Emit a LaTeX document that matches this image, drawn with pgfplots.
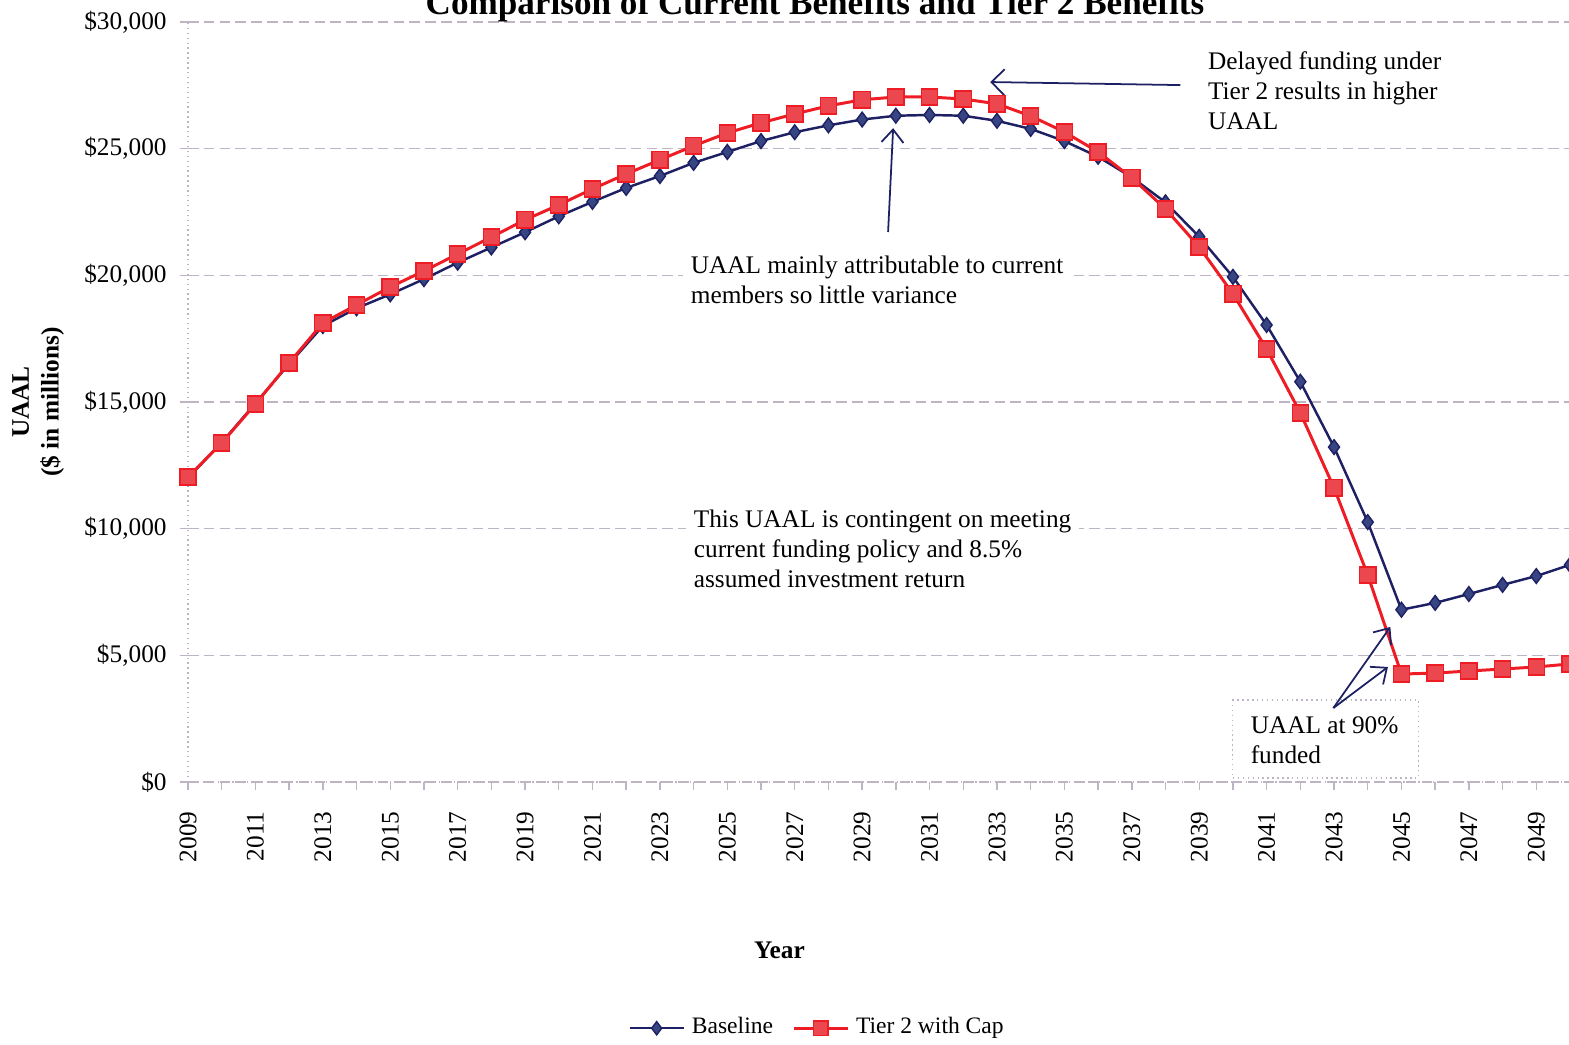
\documentclass[border=0pt]{standalone}
\usepackage{pgfplots}
\pgfplotsset{compat=1.18}
\usepackage{fontspec}
\setmainfont{Liberation Serif}
\usetikzlibrary{arrows.meta}

\definecolor{navy}{RGB}{30,32,100}
\definecolor{navyfill}{RGB}{55,70,130}
\definecolor{tierred}{RGB}{238,28,36}
\definecolor{tierfill}{RGB}{236,70,78}
\definecolor{gridc}{RGB}{190,180,195}

\newcommand{\smallfont}{\fontsize{7.2}{8.5}\selectfont}

\begin{document}
\begin{tikzpicture}
\path[use as bounding box] (0,0) rectangle (15.69cm,10.45cm);
\begin{axis}[
  at={(1.88cm,2.63cm)}, anchor=south west,
  scale only axis, width=13.82cm, height=7.60cm,
  xmin=2009, xmax=2050, ymin=0, ymax=30000,
  clip=false,
  axis x line*=bottom, axis y line*=left,
  axis line style={gridc, densely dotted, line width=0.4pt},
  xtick={2009,2011,...,2049},
  minor xtick={2010,2012,...,2050},
  ytick={0,5000,...,30000},
  yticklabels={\$0,\$5{,}000,\$10{,}000,\$15{,}000,\$20{,}000,\$25{,}000,\$30{,}000},
  ymajorgrids,
  grid style={gridc, dash pattern=on 3pt off 1.5pt, line width=0.35pt},
  major tick length=0.8mm, minor tick length=0.8mm,
  tick style={gridc, line width=0.4pt},
  tick align=outside,
  /pgf/number format/assume math mode=true,
  xticklabel style={/pgf/number format/1000 sep={}, rotate=90, anchor=east, font=\smallfont, xshift=-0.9mm},
  yticklabel style={font=\smallfont, xshift=-0.1mm},
  ylabel={UAAL\\(\$ in millions)},
  ylabel style={align=center, font=\smallfont\bfseries, rotate=0, anchor=center,
    at={(axis description cs:-0.1085,0.5)}},
  xlabel={Year},
  xlabel style={font=\smallfont\bfseries, anchor=center, at={(axis description cs:0.428,-0.221)}},
  legend style={at={(axis description cs:0.457,-0.324)}, anchor=center, draw=none,
    fill=none, font=\fontsize{6.7}{8}\selectfont, legend columns=2,
    /tikz/every even column/.append style={column sep=1.2mm}},
  legend image post style={scale=0.9},
  legend cell align=left,
]
% Baseline
\addplot[color=navy, line width=0.7pt, mark=diamond*, mark size=2.1pt,
  mark options={fill=navyfill, draw=navy, line width=0.4pt}] coordinates {
 (2009,12000) (2010,13400) (2011,14950) (2012,16500) (2013,18000)
 (2014,18700) (2015,19250) (2016,19850) (2017,20500) (2018,21100)
 (2019,21700) (2020,22330) (2021,22900) (2022,23450) (2023,23920)
 (2024,24440) (2025,24870) (2026,25300) (2027,25650) (2028,25920)
 (2029,26150) (2030,26300) (2031,26330) (2032,26300) (2033,26100)
 (2034,25780) (2035,25300) (2036,24680) (2037,23870) (2038,22880)
 (2039,21520) (2040,19940) (2041,18040) (2042,15800) (2043,13220)
 (2044,10260) (2045,6800) (2046,7070) (2047,7420) (2048,7780)
 (2049,8130) (2050,8570)
};
\addlegendentry{Baseline}
% Tier 2 with Cap
\addplot[color=tierred, line width=0.85pt, mark=square*, mark size=2.3pt,
  mark options={fill=tierfill, draw=tierred, line width=0.4pt}] coordinates {
 (2009,12040) (2010,13380) (2011,14920) (2012,16540) (2013,18120)
 (2014,18830) (2015,19540) (2016,20170) (2017,20840) (2018,21510)
 (2019,22190) (2020,22780) (2021,23410) (2022,24000) (2023,24560)
 (2024,25110) (2025,25620) (2026,26020) (2027,26370) (2028,26690)
 (2029,26930) (2030,27040) (2031,27040) (2032,26960) (2033,26770)
 (2034,26290) (2035,25660) (2036,24870) (2037,23850) (2038,22620)
 (2039,21120) (2040,19270) (2041,17090) (2042,14570) (2043,11610)
 (2044,8170) (2045,4260) (2046,4300) (2047,4380) (2048,4460)
 (2049,4540) (2050,4660)
};
\addlegendentry{Tier 2 with Cap}

% chart title
\node[anchor=base, font=\fontsize{10}{12}\selectfont\bfseries]
  at (axis description cs:0.4537,1.0105) {Comparison of Current Benefits and Tier 2 Benefits};

% notes and arrows
\node[anchor=north west, align=left, inner sep=0pt, font=\smallfont]
  at (axis cs:2039.24,28855) {Delayed funding under\\Tier 2 results in higher\\UAAL};
\draw[navy, line width=0.5pt, -{Straight Barb[length=1.3mm,width=2.6mm]}]
  (axis cs:2038.44,27510) -- (axis cs:2032.8,27630);

\node[anchor=north west, align=left, inner xsep=0.8mm, inner ysep=0.4mm, fill=white, font=\smallfont]
  at (axis cs:2023.66,20960) {UAAL mainly attributable to current\\members so little variance};
\draw[navy, line width=0.5pt, -{Straight Barb[length=1.3mm,width=2.2mm]}]
  (axis cs:2029.77,21710) -- (axis cs:2029.92,25810);

\node[anchor=north west, align=left, inner xsep=0.8mm, inner ysep=0.4mm, fill=white, font=\smallfont]
  at (axis cs:2023.75,10934) {This UAAL is contingent on meeting\\current funding policy and 8.5\%\\assumed investment return};

\draw[gridc, densely dotted, fill=white, line width=0.4pt]
  (axis cs:2039.98,3237) rectangle (axis cs:2045.5,158);
\node[anchor=north west, align=left, inner sep=0pt, font=\smallfont]
  at (axis cs:2040.51,2605) {UAAL at 90\%\\funded};
\draw[navy, line width=0.5pt, -{Straight Barb[length=1.3mm,width=2.2mm]}]
  (axis cs:2042.98,2920) -- (axis cs:2044.67,6120);
\draw[navy, line width=0.5pt, -{Straight Barb[length=1.3mm,width=2.2mm]}]
  (axis cs:2042.98,2920) -- (axis cs:2044.6,4540);
\end{axis}
\end{tikzpicture}
\end{document}
